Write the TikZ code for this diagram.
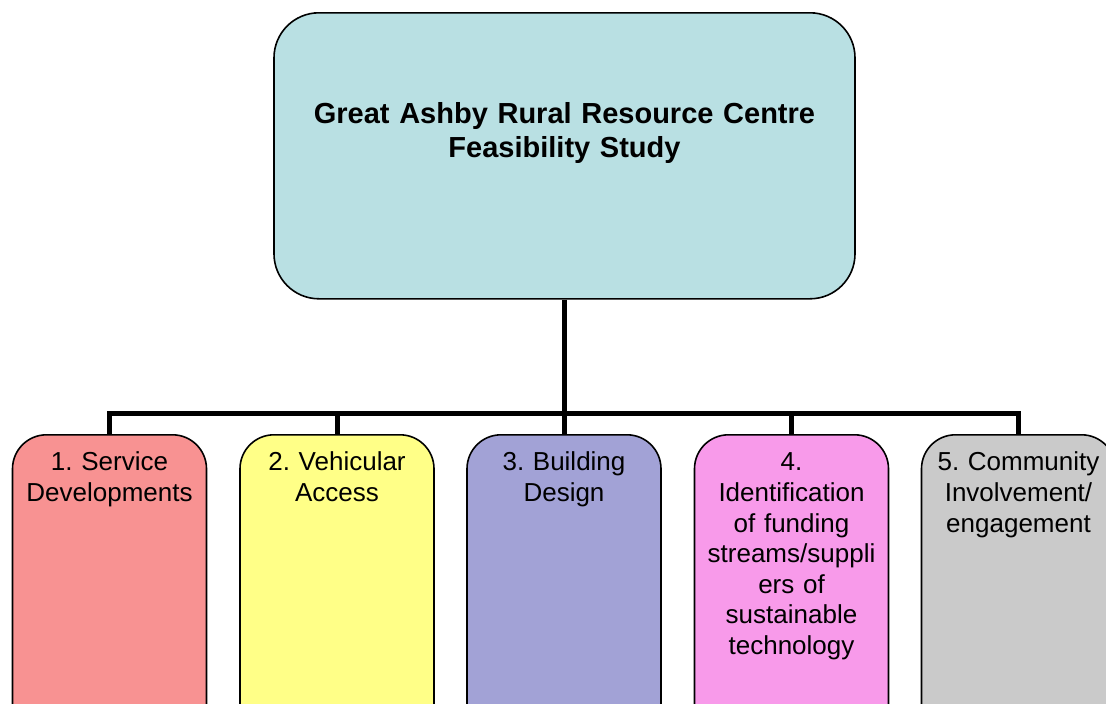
\documentclass[tikz,border=0pt]{standalone}
\usepackage{fontspec}
\setmainfont{Liberation Sans}
\usepackage{tikz}
\usetikzlibrary{positioning, calc}
\frenchspacing
\definecolor{cTeal}{RGB}{185,224,227}
\definecolor{cRed}{RGB}{248,146,146}
\definecolor{cYellow}{RGB}{255,255,135}
\definecolor{cBlue}{RGB}{162,162,214}
\definecolor{cPink}{RGB}{248,154,234}
\definecolor{cGrey}{RGB}{202,202,202}
\tikzset{
    mainbox/.style ={rectangle, rounded corners=45pt, text width=575pt, align=center, text height=110.5pt, text depth=175.5pt, inner xsep=3pt, inner ysep=0pt, draw=black, line width=1.6pt, fill=cTeal, font=\fontsize{29}{34}\selectfont\bfseries},
    taskbox/.style ={rectangle, rounded corners=34pt, text width=186pt, align=center, text height=20pt, text depth=262pt, inner xsep=4pt, inner ysep=16pt, draw=black, line width=1.6pt, font=\fontsize{26}{30.6}\selectfont},
    link/.style    ={line width=5pt},
}
\begin{document}
\begin{tikzpicture}[x=1pt, y=-1pt]
        \clip (0,0) rectangle (1106,704);
        % main box
        \node[mainbox, anchor=north] (study) at (564.5,12) {Great Ashby Rural Resource Centre\\ Feasibility Study};
        % work packages
        \foreach \x/\col/\name/\txt in {109.5/cRed/svc/{1. Service\\Developments}, 337/cYellow/veh/{2. Vehicular\\Access}, 564/cBlue/bld/{3. Building\\Design}, 791.5/cPink/fnd/{4.\\Identification\\of funding\\streams/suppli\\ers of\\sustainable\\technology}, 1018.5/cGrey/com/{5. Community\\Involvement/\\engagement}} {
            \node[taskbox, fill=\col, anchor=north] (\name) at (\x,434) {\txt};
        }
        % connectors
        \coordinate (bus) at (564.5,413);
        \draw[link] (study.south) -- (bus);
        \foreach \name in {svc, veh, bld, fnd, com}
            \draw[link] (bus) -| (\name.north);
\end{tikzpicture}
\end{document}
